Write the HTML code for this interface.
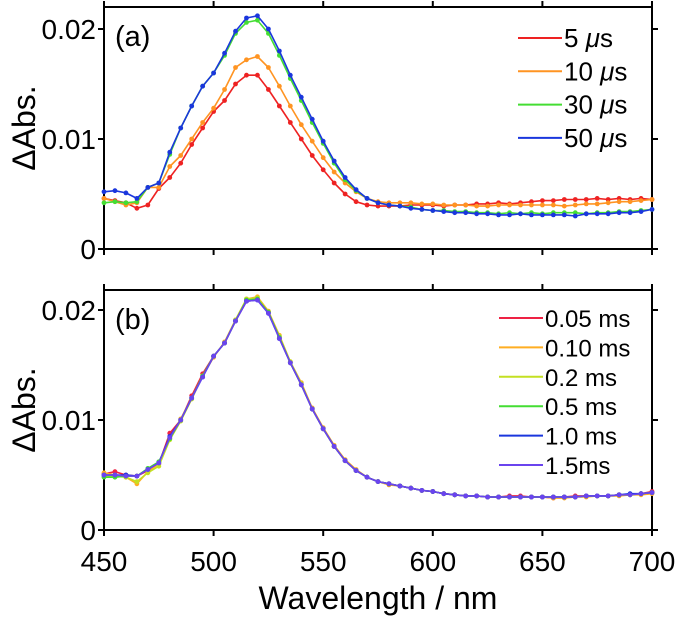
<!DOCTYPE html>
<html><head><meta charset="utf-8"><style>
html,body{margin:0;padding:0;background:#fff}
svg text{font-family:"Liberation Sans",Arial,sans-serif;fill:#000}
</style></head><body>
<svg id="chart" width="676" height="616" viewBox="0 0 676 616" xmlns="http://www.w3.org/2000/svg"></svg>
<script>
const wavelengths=[450,455,460,465,470,475,480,485,490,495,500,505,510,515,520,525,530,535,540,545,550,555,560,565,570,575,580,585,590,595,600,605,610,615,620,625,630,635,640,645,650,655,660,665,670,675,680,685,690,695,700];
const xTicks=[450,500,550,600,650,700];
const yTicks=[0,0.01,0.02];
const yTickLabels=["0","0.01","0.02"];
// panel (a), values in units of 1e-3
const a5us=[4.6,4.4,4.2,3.7,4.0,5.5,6.5,7.8,9.5,11.0,12.5,13.5,15.0,15.8,15.8,14.5,13.0,11.5,10.0,8.5,7.2,6.0,5.0,4.3,4.0,3.9,3.9,3.9,4.0,4.0,4.0,3.9,4.0,4.0,4.1,4.1,4.2,4.1,4.2,4.3,4.4,4.4,4.5,4.5,4.5,4.6,4.5,4.6,4.5,4.6,4.5];
const a10us=[4.6,4.3,4.0,4.2,5.6,5.6,7.5,8.5,10.0,11.5,12.8,14.5,16.5,17.2,17.5,16.5,14.8,13.0,11.3,9.8,8.3,7.0,6.0,5.2,4.6,4.3,4.2,4.2,4.2,4.1,4.1,4.0,4.0,4.0,3.9,3.9,4.0,4.0,4.0,4.0,4.0,4.0,3.9,4.0,4.1,4.1,4.2,4.3,4.3,4.4,4.5];
const a30us=[4.2,4.3,4.2,4.3,5.6,6.0,8.6,11.0,13.0,14.8,16.0,17.6,19.6,20.6,20.8,19.6,17.6,15.5,13.5,11.5,9.6,7.8,6.3,5.3,4.6,4.2,4.0,3.9,3.8,3.6,3.5,3.5,3.4,3.4,3.3,3.3,3.2,3.3,3.2,3.3,3.2,3.3,3.3,3.3,3.2,3.3,3.3,3.4,3.4,3.5,3.6];
const a50us=[5.2,5.3,5.1,4.6,5.6,6.0,8.8,11.0,13.0,14.8,16.0,17.8,19.8,21.0,21.2,20.0,18.0,15.8,13.8,11.8,9.8,8.0,6.5,5.4,4.6,4.2,4.0,3.9,3.7,3.6,3.5,3.4,3.3,3.3,3.2,3.2,3.1,3.1,3.2,3.1,3.1,3.1,3.1,3.0,3.2,3.2,3.2,3.3,3.3,3.4,3.6];
// panel (b)
const b005=[5.1,5.3,5.0,4.9,5.4,6.0,8.8,10.0,12.2,14.2,15.8,17.0,19.0,20.8,21.0,19.8,17.5,15.2,13.2,11.0,9.2,7.6,6.3,5.4,4.8,4.4,4.2,4.0,3.8,3.6,3.5,3.3,3.2,3.1,3.1,3.0,3.0,3.1,3.1,3.0,3.0,2.9,3.0,3.1,3.1,3.1,3.1,3.2,3.2,3.3,3.5];
const b010=[5.2,5.0,4.8,4.2,5.3,6.0,8.3,10.1,12.0,14.0,15.7,17.1,19.1,21.0,21.2,19.9,17.7,15.3,13.4,11.1,9.3,7.7,6.4,5.5,4.8,4.4,4.1,4.0,3.8,3.6,3.5,3.3,3.2,3.1,3.1,3.0,3.0,3.0,3.0,3.0,3.0,2.9,2.9,3.0,3.0,3.1,3.1,3.1,3.2,3.2,3.3];
const b02=[4.9,4.9,4.8,4.4,5.2,5.8,8.2,9.9,11.9,14.0,15.8,17.0,19.1,21.0,21.1,19.8,17.6,15.3,13.3,11.0,9.2,7.6,6.3,5.4,4.8,4.4,4.2,4.0,3.8,3.6,3.5,3.3,3.2,3.1,3.1,3.0,3.0,3.0,3.0,3.0,3.0,3.0,3.0,3.0,3.1,3.1,3.1,3.2,3.2,3.3,3.4];
const b05=[4.8,4.8,4.9,4.9,5.6,6.2,8.3,10.0,12.0,14.0,15.8,17.0,19.0,20.9,21.0,19.8,17.5,15.2,13.2,11.0,9.2,7.6,6.3,5.4,4.8,4.4,4.2,4.0,3.8,3.6,3.5,3.3,3.2,3.1,3.1,3.0,3.0,3.0,3.0,3.0,3.0,3.0,3.0,3.0,3.1,3.1,3.1,3.2,3.2,3.3,3.4];
const b10=[5.0,5.0,5.0,4.9,5.5,6.1,8.5,10.0,12.0,13.9,15.8,17.0,19.0,20.8,20.9,19.7,17.4,15.2,13.2,11.0,9.2,7.6,6.3,5.4,4.8,4.4,4.2,4.0,3.8,3.6,3.5,3.3,3.2,3.1,3.1,3.0,3.0,3.0,3.0,3.0,3.0,3.0,3.0,3.0,3.1,3.1,3.1,3.2,3.3,3.3,3.4];
const b15=[5.0,5.0,4.9,4.9,5.5,6.1,8.4,10.0,12.0,13.9,15.8,17.0,19.0,20.8,20.9,19.7,17.4,15.2,13.2,11.0,9.2,7.6,6.3,5.4,4.8,4.4,4.2,4.0,3.8,3.6,3.5,3.3,3.2,3.1,3.1,3.0,3.0,3.0,3.0,3.0,3.0,3.0,3.0,3.0,3.1,3.1,3.1,3.2,3.2,3.3,3.4];
const seriesA=[a5us,a10us,a30us,a50us];
const namesA=["5","10","30","50"];
const colorsA=["#ee2222","#ff9422","#44dd33","#1a36dd"];
const seriesB=[b005,b010,b02,b05,b10,b15];
const namesB=["0.05 ms","0.10 ms","0.2 ms","0.5 ms","1.0 ms","1.5ms"];
const colorsB=["#ee2244","#ffae22","#c4e022","#44dd33","#1a36dd","#6a44ee"];

const NS="http://www.w3.org/2000/svg";
const svg=document.getElementById('chart');
function mk(tag,attrs,parent){const e=document.createElementNS(NS,tag);for(const k in attrs)e.setAttribute(k,attrs[k]);(parent||svg).appendChild(e);return e;}
const X0=104,X1=652;
function xs(w){return X0+(w-450)/250*(X1-X0);}

function panel(key,top,zeroY,series,names,colors,label,legX,legY,legDy,legFont,micro){
  const ys=v=>zeroY-v*11000;
  const g=mk('g',{});
  
  
  const frame=mk('rect',{x:X0,y:top,width:X1-X0,height:zeroY-top,fill:'none',stroke:'#000','stroke-width':2},g);
  
  
  xTicks.forEach(t=>{
    const x=xs(t);
    const tk=mk('line',{x1:x,x2:x,y1:zeroY,y2:zeroY+6,stroke:'#000','stroke-width':2},g);
    
    
    const tk2=mk('line',{x1:x,x2:x,y1:top,y2:top-6,stroke:'#000','stroke-width':2},g);
    
    
  });
  yTicks.forEach((t,i)=>{
    const y=ys(t);
    const tk=mk('line',{x1:X0,x2:X0-6,y1:y,y2:y,stroke:'#000','stroke-width':2},g);
    
    
    const tk2=mk('line',{x1:X1,x2:X1+6,y1:y,y2:y,stroke:'#000','stroke-width':2},g);
    
    
    const tl=mk('text',{x:X0-8,y:y+10,'text-anchor':'end','font-size':28},g);
    tl.textContent=yTickLabels[i];
    
    
  });
  const yl=mk('text',{x:0,y:0,'text-anchor':'middle','font-size':32,transform:'translate(35,'+((top+zeroY)/2)+') rotate(-90)'},g);
  yl.textContent='\u0394Abs.';
  
  
  const pl=mk('text',{x:115,y:top+39,'font-size':29},g);
  pl.textContent=label;
  
  
  series.forEach((s,si)=>{
    const sg=mk('g',{},g);
    
    
    const pts=s.map((v,i)=>xs(wavelengths[i]).toFixed(1)+','+ys(v/1000).toFixed(1)).join(' ');
    const ln=mk('polyline',{points:pts,fill:'none',stroke:colors[si],'stroke-width':1.6,'stroke-linejoin':'round'},sg);
    
    
    s.forEach((v,i)=>{
      const c=mk('circle',{cx:xs(wavelengths[i]),cy:ys(v/1000),r:2.4,fill:colors[si]},sg);
      
      
    });
  });
  names.forEach((n,i)=>{
    const y=legY+i*legDy;
    const lg=mk('g',{},g);
    
    
    mk('line',{x1:legX,x2:legX+44,y1:y,y2:y,stroke:colors[i],'stroke-width':2},lg);
    const t=mk('text',{x:legX+46,y:y+9,'font-size':legFont},lg);
    if(micro){
      t.appendChild(document.createTextNode(n+' '));
      const m=mk('tspan',{'font-style':'italic'},t);m.textContent='\u03bc';
      t.appendChild(document.createTextNode('s'));
    } else t.textContent=n;
  });
}
panel('a',7,249,seriesA,namesA,colorsA,'(a)',518,38,33.3,26,true);
panel('b',290,530,seriesB,namesB,colorsB,'(b)',499,318,29.4,24,false);

xTicks.forEach(t=>{
  const tl=mk('text',{x:xs(t),y:571,'text-anchor':'middle','font-size':28});
  tl.textContent=t;
  
  
});
const xt=mk('text',{x:378,y:609,'text-anchor':'middle','font-size':32});
xt.textContent='Wavelength / nm';


</script>
</body></html>
